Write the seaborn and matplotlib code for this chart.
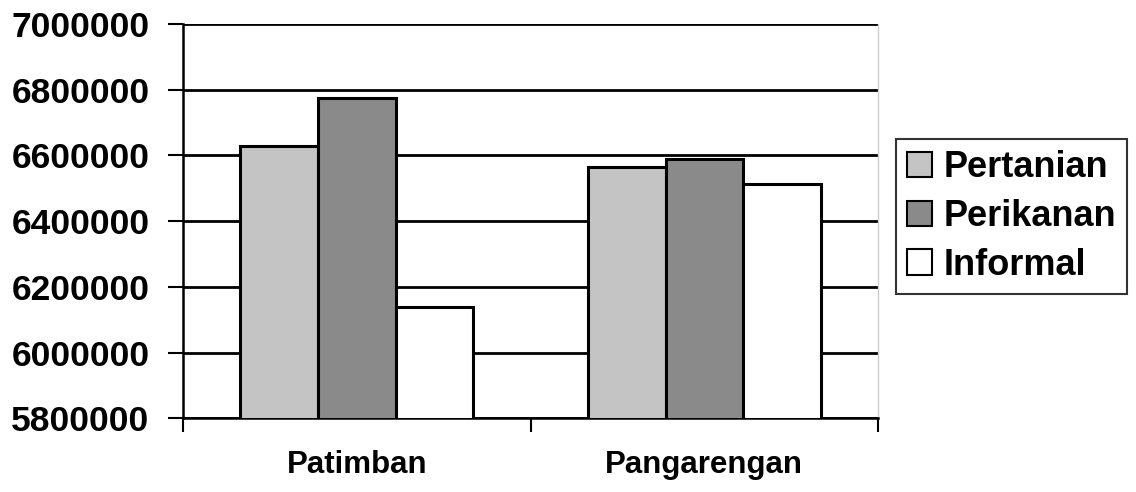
import pandas as pd
import seaborn as sns
import matplotlib.pyplot as plt

# Chart values
locations = ['Patimban', 'Pangarengan']
sectors = ['Pertanian', 'Perikanan', 'Informal']
pertanian = [6630000, 6565000]
perikanan = [6775000, 6590000]
informal = [6138000, 6513000]
y_ticks = [5800000, 6000000, 6200000, 6400000, 6600000, 6800000, 7000000]

df = pd.DataFrame({
    'lokasi': locations * 3,
    'sektor': [s for s in sectors for _ in locations],
    'nilai': pertanian + perikanan + informal,
})

sns.set_style('white')
plt.rcParams['font.family'] = ['Liberation Sans', 'DejaVu Sans']
plt.rcParams['font.weight'] = 'bold'
plt.rcParams['text.color'] = 'black'
plt.rcParams['xtick.color'] = 'black'
plt.rcParams['ytick.color'] = 'black'

fig = plt.figure(figsize=(11.36, 4.92), dpi=100)
ax = fig.add_axes([0.161, 0.150, 0.612, 0.801])

colors = ['#c4c4c4', '#8a8a8a', '#ffffff']
sns.barplot(data=df, x='lokasi', y='nilai', hue='sektor', palette=colors,
            width=0.67, gap=0, edgecolor='black', linewidth=2.2, ax=ax,
            zorder=3)

ax.set_ylim(5800000, 7000000)
ax.set_yticks(y_ticks)
ax.set_yticklabels([str(t) for t in y_ticks], fontsize=25.5, fontweight='bold')
ax.set_xlim(-0.5, 1.5)
ax.set_xticks([-0.5, 0.5, 1.5], minor=False)
ax.set_xticklabels(['', '', ''])
for i, name in enumerate(locations):
    ax.text(i, -0.118, name, transform=ax.get_xaxis_transform(),
            ha='center', va='center', fontsize=22.5, fontweight='bold')
ax.set_xlabel('')
ax.set_ylabel('')

ax.grid(axis='y', color='black', linewidth=2, zorder=0)
ax.tick_params(axis='y', left=True, direction='out', length=11, width=1.5, pad=13)
ax.tick_params(axis='x', bottom=True, direction='out', length=10, width=1.5)
for side in ['left', 'bottom']:
    ax.spines[side].set_color('black')
    ax.spines[side].set_linewidth(1.8)
ax.spines['top'].set_visible(False)
ax.spines['right'].set_color('#cccccc')
ax.spines['right'].set_linewidth(1)

handles, labels = ax.get_legend_handles_labels()
ax.get_legend().remove()
leg = fig.legend(handles, labels, loc='center left', bbox_to_anchor=(0.789, 0.56),
                 prop={'size': 26, 'weight': 'bold'}, frameon=True, fancybox=False,
                 handlelength=0.7, handleheight=0.7, handletextpad=0.3,
                 labelspacing=0.38, borderpad=0.3, borderaxespad=0)
leg.get_frame().set_edgecolor('black')
leg.get_frame().set_linewidth(1.5)
for h in leg.legend_handles:
    h.set_linewidth(1.5)

fig.savefig('out.png', dpi=100)
